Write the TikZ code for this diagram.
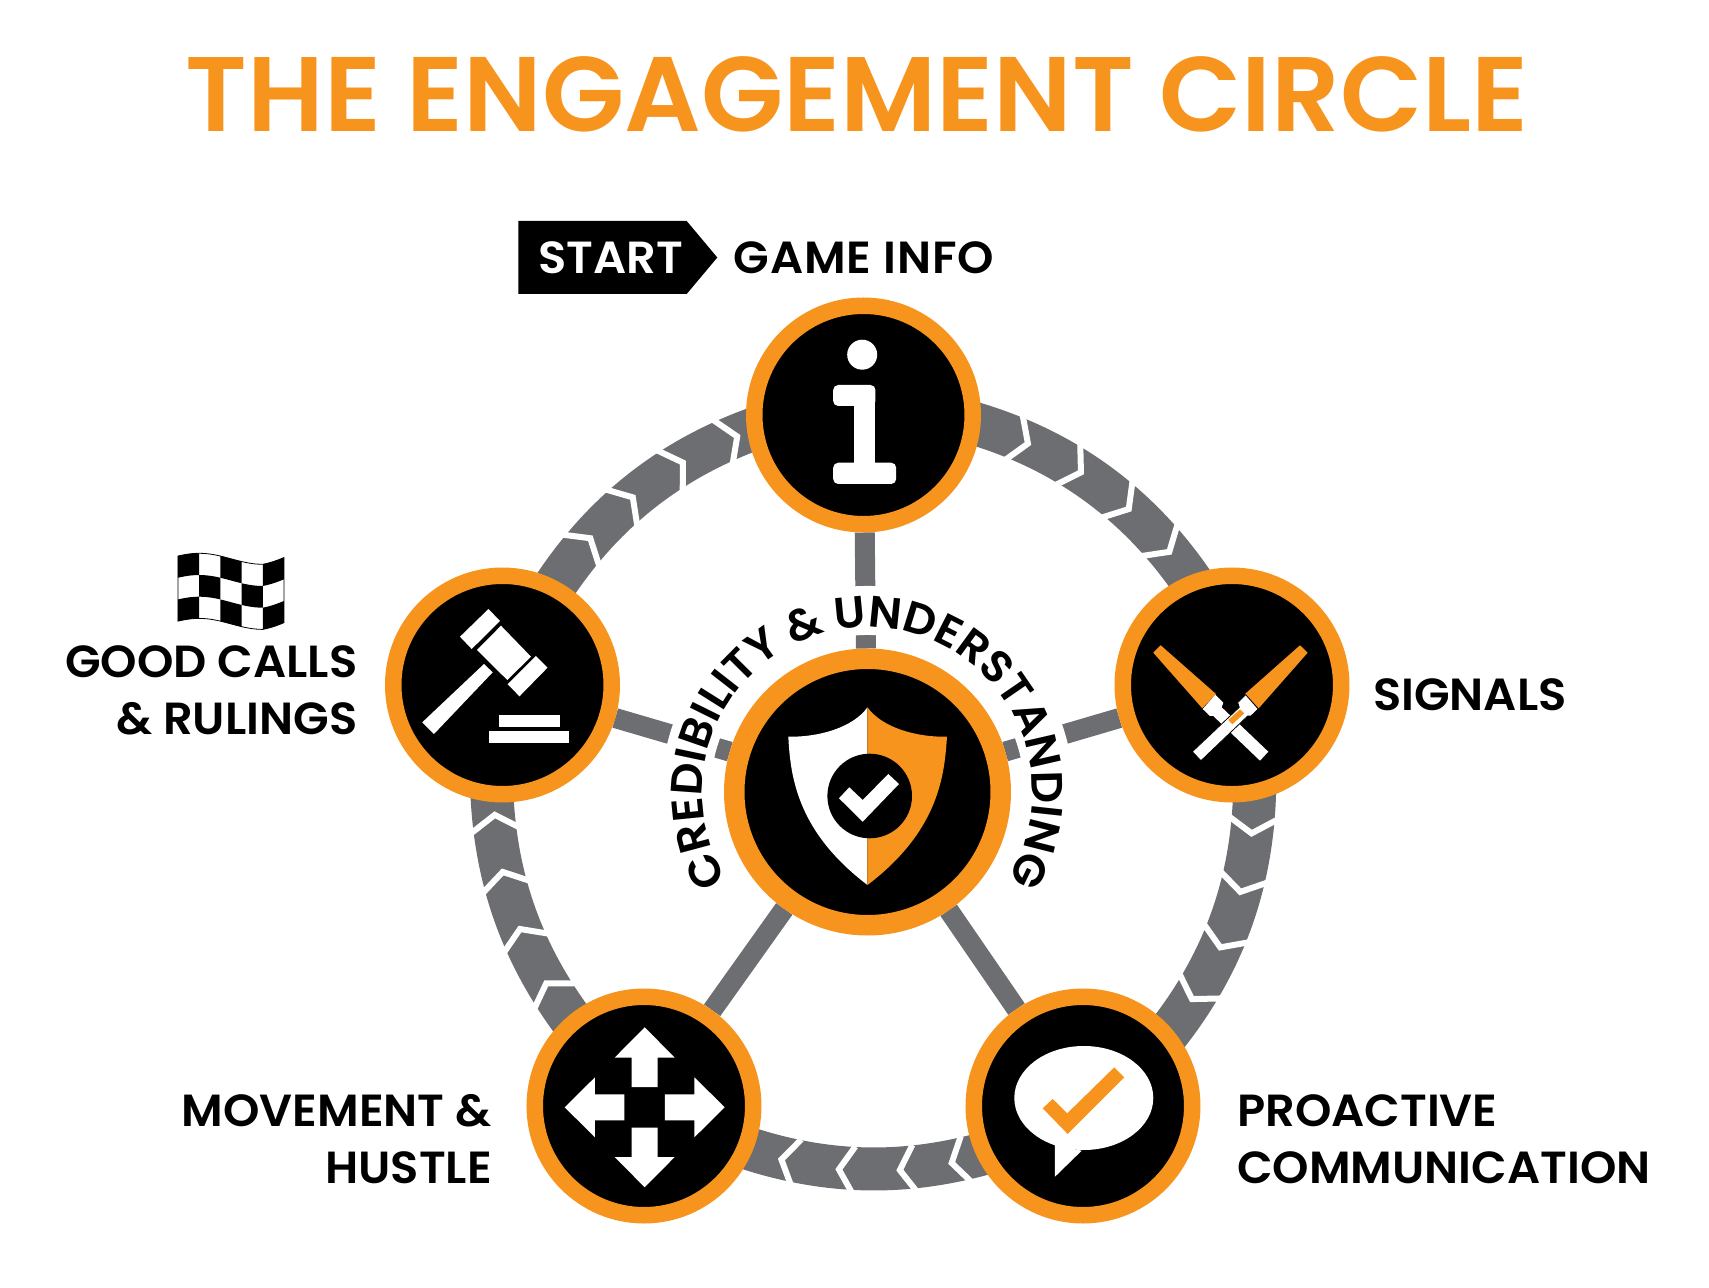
\documentclass[tikz,border=0pt]{standalone}
\usepackage{fontspec}
\usetikzlibrary{positioning,calc,backgrounds,shapes.symbols,decorations.text}

\newfontfamily\titlefont[FakeStretch=1.01]{Poppins SemiBold}
\newfontfamily\labelfont[FakeStretch=1.03]{Poppins SemiBold}

\definecolor{coneorange}{HTML}{F7941E}
\definecolor{ringgrey}{HTML}{6D6E71}

\begin{document}
\begin{tikzpicture}[
  x=1pt, y=1pt,
  declare function={flagoff(\u)=5.5-5.5*cos(60*(\u-1))-4*max(0,\u-4);},
  stepnode/.style={draw=coneorange, fill=black, circle, line width=16.5pt, minimum size=218.5pt, inner sep=0pt},
  hubnode/.style={draw=coneorange, fill=black, circle, line width=20.5pt, minimum size=266.5pt, inner sep=0pt},
  lbl/.style={font=\labelfont\fontsize{45}{56.5}\selectfont, inner sep=0pt},
  spoke/.style={ringgrey, line width=20pt},
  ringlink/.style={ringgrey, line width=43pt, looseness=0.873, shorten <=-10pt, shorten >=-10pt},
  notch/.style={white, line width=6pt},
  icon/.style={fill=white}
]
\useasboundingbox (-867.5,-496) rectangle (841.5,792);

% Title
\node[font=\titlefont\fontsize{106}{106}\selectfont, text=coneorange, inner sep=0pt] (title) at (-10.5,698) {THE ENGAGEMENT CIRCLE};

% Nodes
\node[hubnode] (hub) at (0,0) {};
\node[stepnode] (info) at (-4,377) {};
\node[stepnode] (signals) at (364.5,107) {};
\node[stepnode] (proactive) at (215.5,-314) {};
\node[stepnode] (movement) at (-223.5,-314) {};
\node[stepnode] (gavel) at (-365,107) {};
\coordinate (ringc) at (6.5,1);

% Spokes and ring under the nodes
\begin{scope}[on background layer]
  \foreach \n in {info,signals,proactive,movement,gavel}
    \draw[spoke] (hub) -- (\n);
  \draw[white, line width=49pt] (206:181.5) arc[start angle=206, end angle=-26, radius=181.5];
  \foreach \p/\q/\b in {info.-5.4/signals.112.2/19.8, signals.-79.2/proactive.41.6/18.6,
      proactive.205.6/movement.-22.5/17, movement.130.2/gavel.265.9/17.2, gavel.62.3/info.188.7/18.5}
    \draw[ringlink] (\p) to[bend left=\b] (\q);
  \foreach \a in {68.4,59.3,50.2,41.3, -4.1,-13.1,-22,-30.9, -75.9,-83.8,-93,-101.8,
      212.7,203.6,194.6,185.9, 140.6,131.7,122.5,113.4}
    \draw[notch] ($(ringc)+(\a:404)$) -- ($(ringc)+(\a-2.3:380)$) -- ($(ringc)+(\a:356)$);
\end{scope}

% Arc text round the hub
\path[decorate, decoration={text along path, text align=center,
    text={|\labelfont\fontsize{44}{44}\selectfont|CREDIBILITY {\&} UNDERSTANDING}}]
  (210:165) arc[start angle=210, end angle=-30, radius=165];

% Labels
\node[signal, signal to=east, signal pointer angle=100, fill=black, text=white, font=\labelfont\fontsize{45}{45}\selectfont,
  inner sep=0pt, minimum height=73pt, minimum width=199pt] (start) at (-265,534.5) {\hspace*{17pt}START};
\node[lbl] (infolbl) at (-3.5,534) {\addfontfeature{LetterSpace=2}GAME INFO};
\node[lbl, anchor=east, align=right] (gavellbl) at (-510,101.5) {GOOD CALLS\\\& RULINGS};
\node[lbl, anchor=west] (signalslbl) at (505.5,97) {SIGNALS};
\node[lbl, anchor=east, align=right] (movementlbl) at (-375.5,-347) {MOVEMENT \&\\HUSTLE};
\node[lbl, anchor=west, align=left] (proactivelbl) at (369.5,-347) {PROACTIVE\\COMMUNICATION};

% Flag
\foreach \cc in {0,...,4}
  \foreach \rr in {0,1,2} {
    \pgfmathparse{int(mod(\cc+\rr,2))}
    \ifnum\pgfmathresult=0
      \fill plot[domain=\cc:\cc+1, samples=7] ({-689.5+21.2*\x},{238.7-flagoff(\x)-\rr*21.7})
        -- plot[domain=\cc+1:\cc, samples=7] ({-689.5+21.2*\x},{238.7-flagoff(\x)-(\rr+1)*21.7}) -- cycle;
    \fi
  }
\draw[line width=0.8pt] plot[domain=0:5, samples=31] ({-689.5+21.2*\x},{238.7-flagoff(\x)})
  -- plot[domain=5:0, samples=31] ({-689.5+21.2*\x},{238.7-flagoff(\x)-3*21.7}) -- cycle;

% Info icon
\begin{scope}[shift={(info.center)}]
  \fill[icon] (-1.3,60.3) circle (15);
  \fill[icon, rounded corners=5pt] (-30.3,9) rectangle (12,30);
  \fill[icon] (-9,-50) rectangle (12,20);
  \fill[icon, rounded corners=5pt] (-30.3,-69) rectangle (32.7,-47.7);
\end{scope}

% Baton icon
\begin{scope}[shift={(signals.center)}]
  \fill[coneorange] (-78.7,32.3) -- (-71.3,39.7) -- (-16,-9) -- (-29.7,-23.3) -- cycle;
  \fill[coneorange] (68,39.7) -- (75.7,32.3) -- (26.7,-23.3) -- (13,-9) -- cycle;
  \fill[icon] (-16.7,-9.7) -- (-8.7,-17.7) -- (-10.3,-22.3) -- (36.3,-66.7) -- (28,-75.7) -- (-18.7,-31) -- (-22,-31) -- (-29.3,-24) -- cycle;
  \filldraw[icon, draw=black, line width=0.8pt] (13.7,-9.7) -- (5.7,-17.7) -- (7.3,-22.3) -- (-39.7,-66.7) -- (-31,-75.7) -- (15.7,-31) -- (19,-31) -- (26.3,-24) -- cycle;
  \fill[coneorange] (8,-24.3) -- (12.3,-28.3) -- (0.3,-39.3) -- (-3.7,-35) -- cycle;
\end{scope}

% Speech icon
\begin{scope}[shift={(proactive.center)}]
  \fill[icon] (0.8,8) ellipse (69.5 and 52);
  \fill[icon] (-28,-39) -- (-28,-70.7) -- (-1.3,-44.7) -- cycle;
  \fill[coneorange] (-40.3,-2.3) -- (-30.3,7) -- (-15.7,-7.3) -- (31.3,38.7) -- (41.3,28.7) -- (-15.3,-28) -- cycle;
\end{scope}

% Arrows icon
\begin{scope}[shift={(movement.center)}, xshift=0.7pt, yshift=-1.3pt]
  \foreach \s in {0,90,180,270}
    \fill[icon, rotate=\s] (0,80) -- (30,49.7) -- (13,49.7) -- (13,20.3) -- (-13,20.3) -- (-13,49.7) -- (-30,49.7) -- cycle;
\end{scope}

% Gavel icon
\begin{scope}[shift={(gavel.center)}]
  \fill[icon] (-1.5,59.3) -- (28.5,28.3) -- (4.8,5) -- (-25.5,35) -- cycle;
  \fill[icon] (-14,76) -- (-2.5,64) -- (-30.8,36) -- (-42.5,48.3) -- cycle;
  \fill[icon] (33.5,29) -- (45,17.3) -- (17,-11.3) -- (5.2,0.7) -- cycle;
  \fill[icon] (-18.5,21) -- (-9.8,12.7) -- (-68.5,-49) -- (-80.2,-37.3) -- cycle;
  \fill[icon] (-3.8,-29.7) rectangle (57.2,-42);
  \fill[icon] (-13.8,-45.7) rectangle (66.8,-57.7);
\end{scope}

% Shield icon
\begin{scope}[shift={(hub.center)}]
  \fill[icon] (0,84.7) .. controls (-14,65) and (-47.5,54.7) .. (-79.2,55.3)
    .. controls (-77,18.7) and (-72.5,-38) .. (0,-93) -- cycle;
  \fill[coneorange] (0,84.7) .. controls (14,65) and (47.5,54.7) .. (79.5,55.3)
    .. controls (77,18.7) and (72.5,-38) .. (0,-93) -- cycle;
  \fill[black] (2.2,-4) circle (42.3);
  \fill[icon] (-28.5,-6.3) -- (-4.8,-29.7) -- (31.5,8) -- (20.8,18) -- (-4.8,-8) -- (-18.2,4.7) -- cycle;
\end{scope}

\end{tikzpicture}
\end{document}
